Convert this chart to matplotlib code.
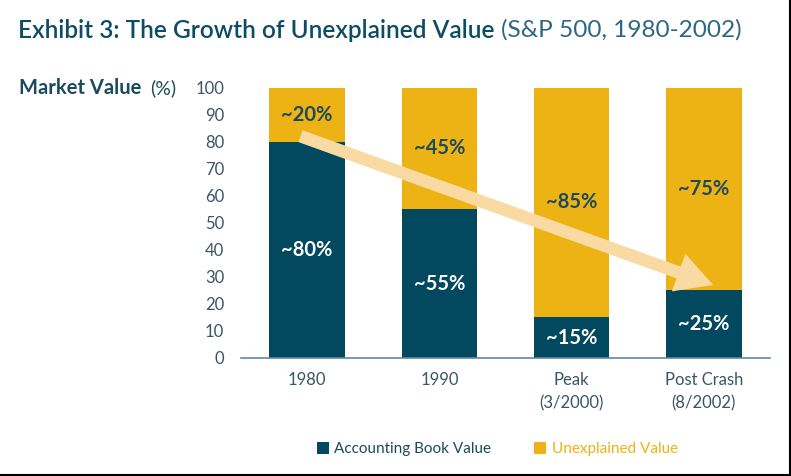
import matplotlib
matplotlib.use("Agg")
import matplotlib.pyplot as plt
from matplotlib.patches import Patch
from matplotlib.lines import Line2D

categories = ["1980", "1990", "Peak\n(3/2000)", "Post Crash\n(8/2002)"]
book_value = [80, 55, 15, 25]
unexplained_value = [20, 45, 85, 75]
book_labels = ["~80%", "~55%", "~15%", "~25%"]
unexplained_labels = ["~20%", "~45%", "~85%", "~75%"]
y_ticks = [0, 10, 20, 30, 40, 50, 60, 70, 80, 90, 100]

DARK = "#02495F"
GOLD = "#EDB213"
TEXT = "#1B4A5E"
TICK = "#3A5566"
ARROW = "#F8DAA2"

plt.rcParams['font.family'] = ['Lato', 'DejaVu Sans']

fig = plt.figure(figsize=(7.91, 4.76), dpi=100)
ax = fig.add_axes([241/791, 1 - 358/476, (770 - 241)/791, (358 - 87.5)/476])

x = list(range(len(categories)))
ax.bar(x, book_value, width=0.57, color=DARK, zorder=2)
ax.bar(x, unexplained_value, width=0.57, bottom=book_value, color=GOLD, zorder=2)

for i in x:
    ax.text(i, book_value[i] / 2, book_labels[i], ha='center', va='center',
            color='white', fontsize=14.5, fontweight='bold', zorder=5)
    ax.text(i, book_value[i] + unexplained_value[i] / 2, unexplained_labels[i],
            ha='center', va='center', color=TEXT, fontsize=14.5, fontweight='bold', zorder=5)

ax.annotate("", xy=(3.07, 27), xytext=(-0.05, 82),
            arrowprops=dict(arrowstyle="simple,head_width=2.4,head_length=2.2,tail_width=0.75",
                            mutation_scale=12, color=ARROW, lw=0, shrinkA=0, shrinkB=0),
            zorder=4)

ax.set_xlim(-0.5, 3.5)
ax.set_ylim(0, 100)
ax.set_yticks(y_ticks)
ax.set_yticklabels([str(t) for t in y_ticks], fontsize=12, color=TICK)
ax.set_xticks(x)
ax.set_xticklabels(categories, fontsize=12, color=TICK, linespacing=1.55)
ax.tick_params(axis='both', length=0)
ax.tick_params(axis='y', pad=12)
ax.tick_params(axis='x', pad=10)
for s in ['top', 'right', 'left']:
    ax.spines[s].set_visible(False)
ax.spines['bottom'].set_color('#5E8AA0')
ax.spines['bottom'].set_linewidth(1.2)

fig.text(19/791, 1 - 88/476, "Market Value", fontsize=14.5, fontweight='bold',
         color=TEXT, va='center', ha='left')
fig.text(150/791, 1 - 88/476, "(%)", fontsize=14, color=TEXT, va='center', ha='left')

t1 = fig.text(18/791, 1 - 30/476, "Exhibit 3: The Growth of Unexplained Value ",
              fontsize=17.6, fontweight='semibold', color="#0E4C66", va='center', ha='left')
fig.canvas.draw()
bb = t1.get_window_extent()
fig.text(bb.x1 / (7.91 * 100), 1 - 30/476, "(S&P 500, 1980-2002)",
         fontsize=17.6, color="#2F6683", va='center', ha='left')

handles = [Patch(facecolor=DARK, edgecolor='none'), Patch(facecolor=GOLD, edgecolor='none')]
leg = fig.legend(handles, ["Accounting Book Value", "Unexplained Value"],
                 loc='center left', bbox_to_anchor=(303/791, 1 - 449/476), ncol=2,
                 frameon=False, fontsize=11, handlelength=0.8, handleheight=0.8,
                 handletextpad=0.35, columnspacing=2.8, labelcolor=[TEXT, GOLD])

fig.add_artist(Line2D([789.5/791, 789.5/791], [1 - 474.5/476, 1], transform=fig.transFigure,
                      color='black', lw=1.5))
fig.add_artist(Line2D([0, 789.5/791], [1 - 474.5/476, 1 - 474.5/476], transform=fig.transFigure,
                      color='black', lw=1.5))

fig.savefig("out.png", dpi=100)
